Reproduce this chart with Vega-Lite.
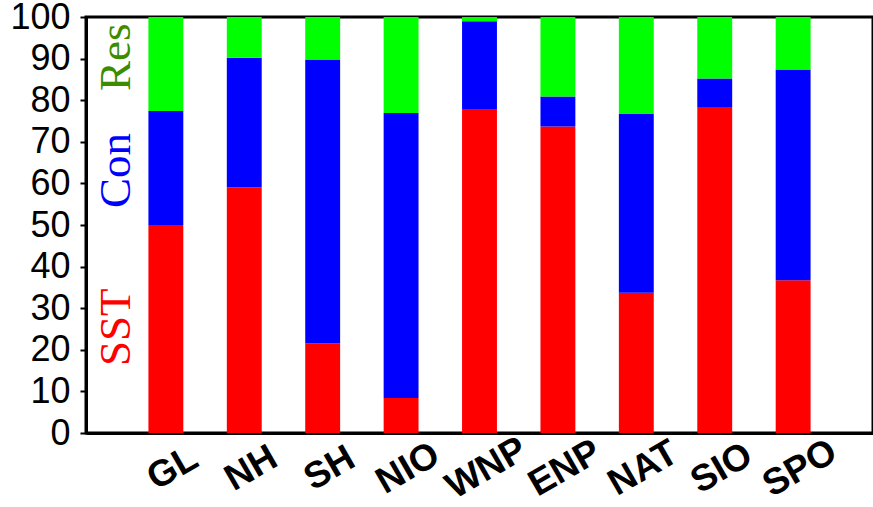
{
  "$schema": "https://vega.github.io/schema/vega-lite/v6.json",
  "width": 787,
  "height": 416,
  "autosize": {"type": "none"},
  "padding": {"left": 86, "top": 17, "right": 0, "bottom": 74},
  "background": "white",
  "config": {
    "view": {"stroke": "black", "strokeWidth": 3},
    "font": "Liberation Sans"
  },
  "datasets": {
    "bars": [
      {"region": "GL", "component": "SST", "value": 50.0},
      {"region": "GL", "component": "Con", "value": 27.4},
      {"region": "GL", "component": "Res", "value": 22.6},
      {"region": "NH", "component": "SST", "value": 59.1},
      {"region": "NH", "component": "Con", "value": 31.1},
      {"region": "NH", "component": "Res", "value": 9.8},
      {"region": "SH", "component": "SST", "value": 21.5},
      {"region": "SH", "component": "Con", "value": 68.3},
      {"region": "SH", "component": "Res", "value": 10.2},
      {"region": "NIO", "component": "SST", "value": 8.4},
      {"region": "NIO", "component": "Con", "value": 68.5},
      {"region": "NIO", "component": "Res", "value": 23.1},
      {"region": "WNP", "component": "SST", "value": 77.9},
      {"region": "WNP", "component": "Con", "value": 21.1},
      {"region": "WNP", "component": "Res", "value": 1.0},
      {"region": "ENP", "component": "SST", "value": 73.7},
      {"region": "ENP", "component": "Con", "value": 7.2},
      {"region": "ENP", "component": "Res", "value": 19.1},
      {"region": "NAT", "component": "SST", "value": 33.7},
      {"region": "NAT", "component": "Con", "value": 43.0},
      {"region": "NAT", "component": "Res", "value": 23.3},
      {"region": "SIO", "component": "SST", "value": 78.2},
      {"region": "SIO", "component": "Con", "value": 7.0},
      {"region": "SIO", "component": "Res", "value": 14.8},
      {"region": "SPO", "component": "SST", "value": 36.7},
      {"region": "SPO", "component": "Con", "value": 50.7},
      {"region": "SPO", "component": "Res", "value": 12.6}
    ],
    "notes": [
      {"label": "Res", "pos": 90.3},
      {"label": "Con", "pos": 63.1},
      {"label": "SST", "pos": 25.4}
    ]
  },
  "layer": [
    {
      "data": {"name": "bars"},
      "mark": {"type": "bar"},
      "encoding": {
        "x": {
          "field": "region",
          "type": "nominal",
          "sort": ["GL", "NH", "SH", "NIO", "WNP", "ENP", "NAT", "SIO", "SPO"],
          "scale": {"paddingInner": 0.555, "paddingOuter": 0.796},
          "axis": {
            "title": null,
            "domainColor": "black",
            "domainWidth": 3,
            "ticks": false,
            "labelAngle": -30,
            "labelAlign": "center",
            "labelBaseline": "middle",
            "labelPadding": 35,
            "labelOffset": 7,
            "labelFont": "Liberation Sans",
            "labelFontWeight": "bold",
            "labelFontSize": 37,
            "labelColor": "black"
          }
        },
        "y": {
          "field": "value",
          "type": "quantitative",
          "stack": "zero",
          "scale": {"domain": [0, 100], "nice": false},
          "axis": {
            "title": null,
            "values": [0, 10, 20, 30, 40, 50, 60, 70, 80, 90, 100],
            "grid": false,
            "domainColor": "black",
            "domainWidth": 3,
            "tickColor": "black",
            "tickWidth": 2,
            "tickSize": 6,
            "labelPadding": 10,
            "labelFont": "Liberation Sans",
            "labelFontSize": 36,
            "labelColor": "black"
          }
        },
        "color": {
          "field": "component",
          "type": "nominal",
          "scale": {"domain": ["SST", "Con", "Res"], "range": ["#ff0000", "#0000ff", "#00ff00"]},
          "legend": null
        },
        "order": {"field": "order_key", "type": "quantitative"}
      }
    },
    {
      "data": {"name": "notes"},
      "mark": {
        "type": "text",
        "angle": -90,
        "align": "center",
        "baseline": "middle",
        "dy": -50,
        "font": "Liberation Serif",
        "fontSize": 45
      },
      "encoding": {
        "x": {"datum": "GL"},
        "y": {"field": "pos", "type": "quantitative"},
        "text": {"field": "label"},
        "color": {
          "field": "label",
          "type": "nominal",
          "scale": {"domain": ["Res", "Con", "SST"], "range": ["#3c8c00", "#0000ff", "#ff0000"]},
          "legend": null
        }
      }
    }
  ],
  "resolve": {"scale": {"color": "independent"}}
}
